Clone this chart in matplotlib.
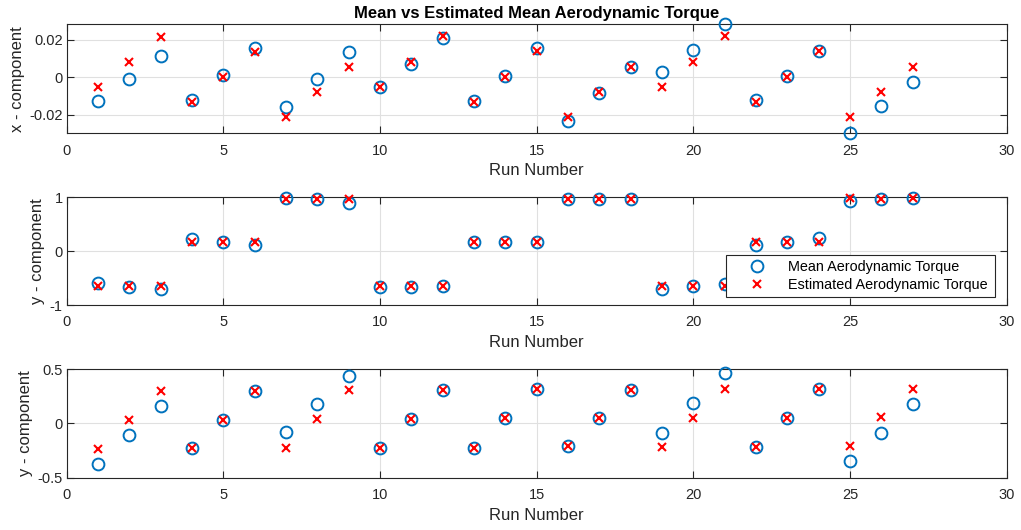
import numpy as np
import matplotlib
matplotlib.use("Agg")
import matplotlib.pyplot as plt

plt.rcParams['font.family'] = ['Liberation Sans', 'DejaVu Sans']

runs = np.arange(1, 28)

# x - component
x_mean = [-0.0126, -0.0007, 0.0117, -0.0123, 0.0012, 0.0155, -0.0158, -0.0007, 0.0137,
          -0.0053, 0.0069, 0.0208, -0.0124, 0.0009, 0.0158, -0.0233, -0.0082, 0.0057,
          0.0027, 0.0149, 0.0284, -0.0123, 0.0007, 0.0142, -0.0299, -0.0155, -0.0025]
x_est = [-0.0053, 0.0080, 0.0217, -0.0133, 0.0000, 0.0137, -0.0213, -0.0078, 0.0057,
         -0.0053, 0.0084, 0.0220, -0.0133, 0.0000, 0.0140, -0.0213, -0.0076, 0.0057,
         -0.0053, 0.0082, 0.0219, -0.0133, 0.0000, 0.0142, -0.0213, -0.0078, 0.0057]

# y - component (middle panel)
y_mean = [-0.60, -0.66, -0.70, 0.22, 0.16, 0.12, 0.98, 0.96, 0.89,
          -0.66, -0.66, -0.65, 0.17, 0.17, 0.17, 0.96, 0.96, 0.96,
          -0.70, -0.65, -0.62, 0.12, 0.17, 0.24, 0.92, 0.97, 0.99]
y_est = [-0.65, -0.65, -0.65, 0.16, 0.16, 0.16, 0.97, 0.97, 0.97,
         -0.65, -0.65, -0.65, 0.16, 0.16, 0.16, 0.97, 0.97, 0.97,
         -0.65, -0.65, -0.65, 0.16, 0.16, 0.17, 0.98, 0.97, 0.98]

# third panel
z_mean = [-0.374, -0.110, 0.160, -0.230, 0.034, 0.300, -0.077, 0.180, 0.440,
          -0.230, 0.037, 0.310, -0.230, 0.046, 0.316, -0.210, 0.050, 0.310,
          -0.086, 0.190, 0.460, -0.220, 0.050, 0.320, -0.350, -0.086, 0.175]
z_est = [-0.236, 0.031, 0.300, -0.230, 0.034, 0.300, -0.230, 0.040, 0.310,
         -0.230, 0.037, 0.310, -0.230, 0.046, 0.316, -0.210, 0.050, 0.310,
         -0.220, 0.046, 0.316, -0.220, 0.050, 0.320, -0.205, 0.058, 0.320]

blue = (0, 0.447, 0.741)
dark = (0.15, 0.15, 0.15)

fig = plt.figure(figsize=(10.21, 5.30), dpi=100)
left, width = 0.0653, 0.9206
ax1 = fig.add_axes([left, 0.7485, width, 0.2057])
ax2 = fig.add_axes([left, 0.4245, width, 0.2038])
ax3 = fig.add_axes([left, 0.0987, width, 0.2050])

panels = [
    (ax1, x_mean, x_est, 'x - component', (-0.0299, 0.0284), [-0.02, 0, 0.02], ['-0.02', '0', '0.02']),
    (ax2, y_mean, y_est, 'y - component', (-1, 1), [-1, 0, 1], ['-1', '0', '1']),
    (ax3, z_mean, z_est, 'y - component', (-0.5, 0.5), [-0.5, 0, 0.5], ['-0.5', '0', '0.5']),
]

for ax, m, e, lab, ylim, yt, ytl in panels:
    ax.plot(runs, m, 'o', mfc='none', mec=blue, ms=8.5, mew=1.4, ls='none',
            clip_on=False, zorder=3, label='Mean Aerodynamic Torque')
    ax.plot(runs, e, 'x', color='red', ms=6, mew=1.5, ls='none',
            clip_on=False, zorder=4, label='Estimated Aerodynamic Torque')
    ax.set_xlim(0, 30)
    ax.set_ylim(*ylim)
    ax.set_xticks([0, 5, 10, 15, 20, 25, 30])
    ax.set_yticks(yt)
    ax.set_yticklabels(ytl)
    ax.grid(True, color=(0.88, 0.88, 0.88), lw=0.8)
    ax.set_axisbelow(True)
    ax.tick_params(direction='in', top=True, right=True, length=5, width=0.8,
                   colors=dark, labelsize=10.5, labelcolor=dark)
    ax.tick_params(axis='x', pad=7.5)
    ax.tick_params(axis='y', pad=3)
    for s in ax.spines.values():
        s.set_color(dark)
        s.set_linewidth(0.8)
    ax.set_xlabel('Run Number', fontsize=12, color=dark, labelpad=4)
    ax.set_ylabel(lab, fontsize=12, color=dark, labelpad=3)

ax1.set_title('Mean vs Estimated Mean Aerodynamic Torque', fontsize=12, fontweight='bold', pad=4.5)

leg = ax2.legend(loc='lower left', bbox_to_anchor=(0.7014, 0.074, 0.2862, 0.398),
                 mode='expand', fontsize=10.4, frameon=True, fancybox=False,
                 edgecolor=dark, framealpha=1, borderpad=0.33, handlelength=3.6,
                 handletextpad=0.35, labelspacing=0.3, borderaxespad=0)
leg.get_frame().set_linewidth(0.8)

plt.savefig('out.png', dpi=100)
